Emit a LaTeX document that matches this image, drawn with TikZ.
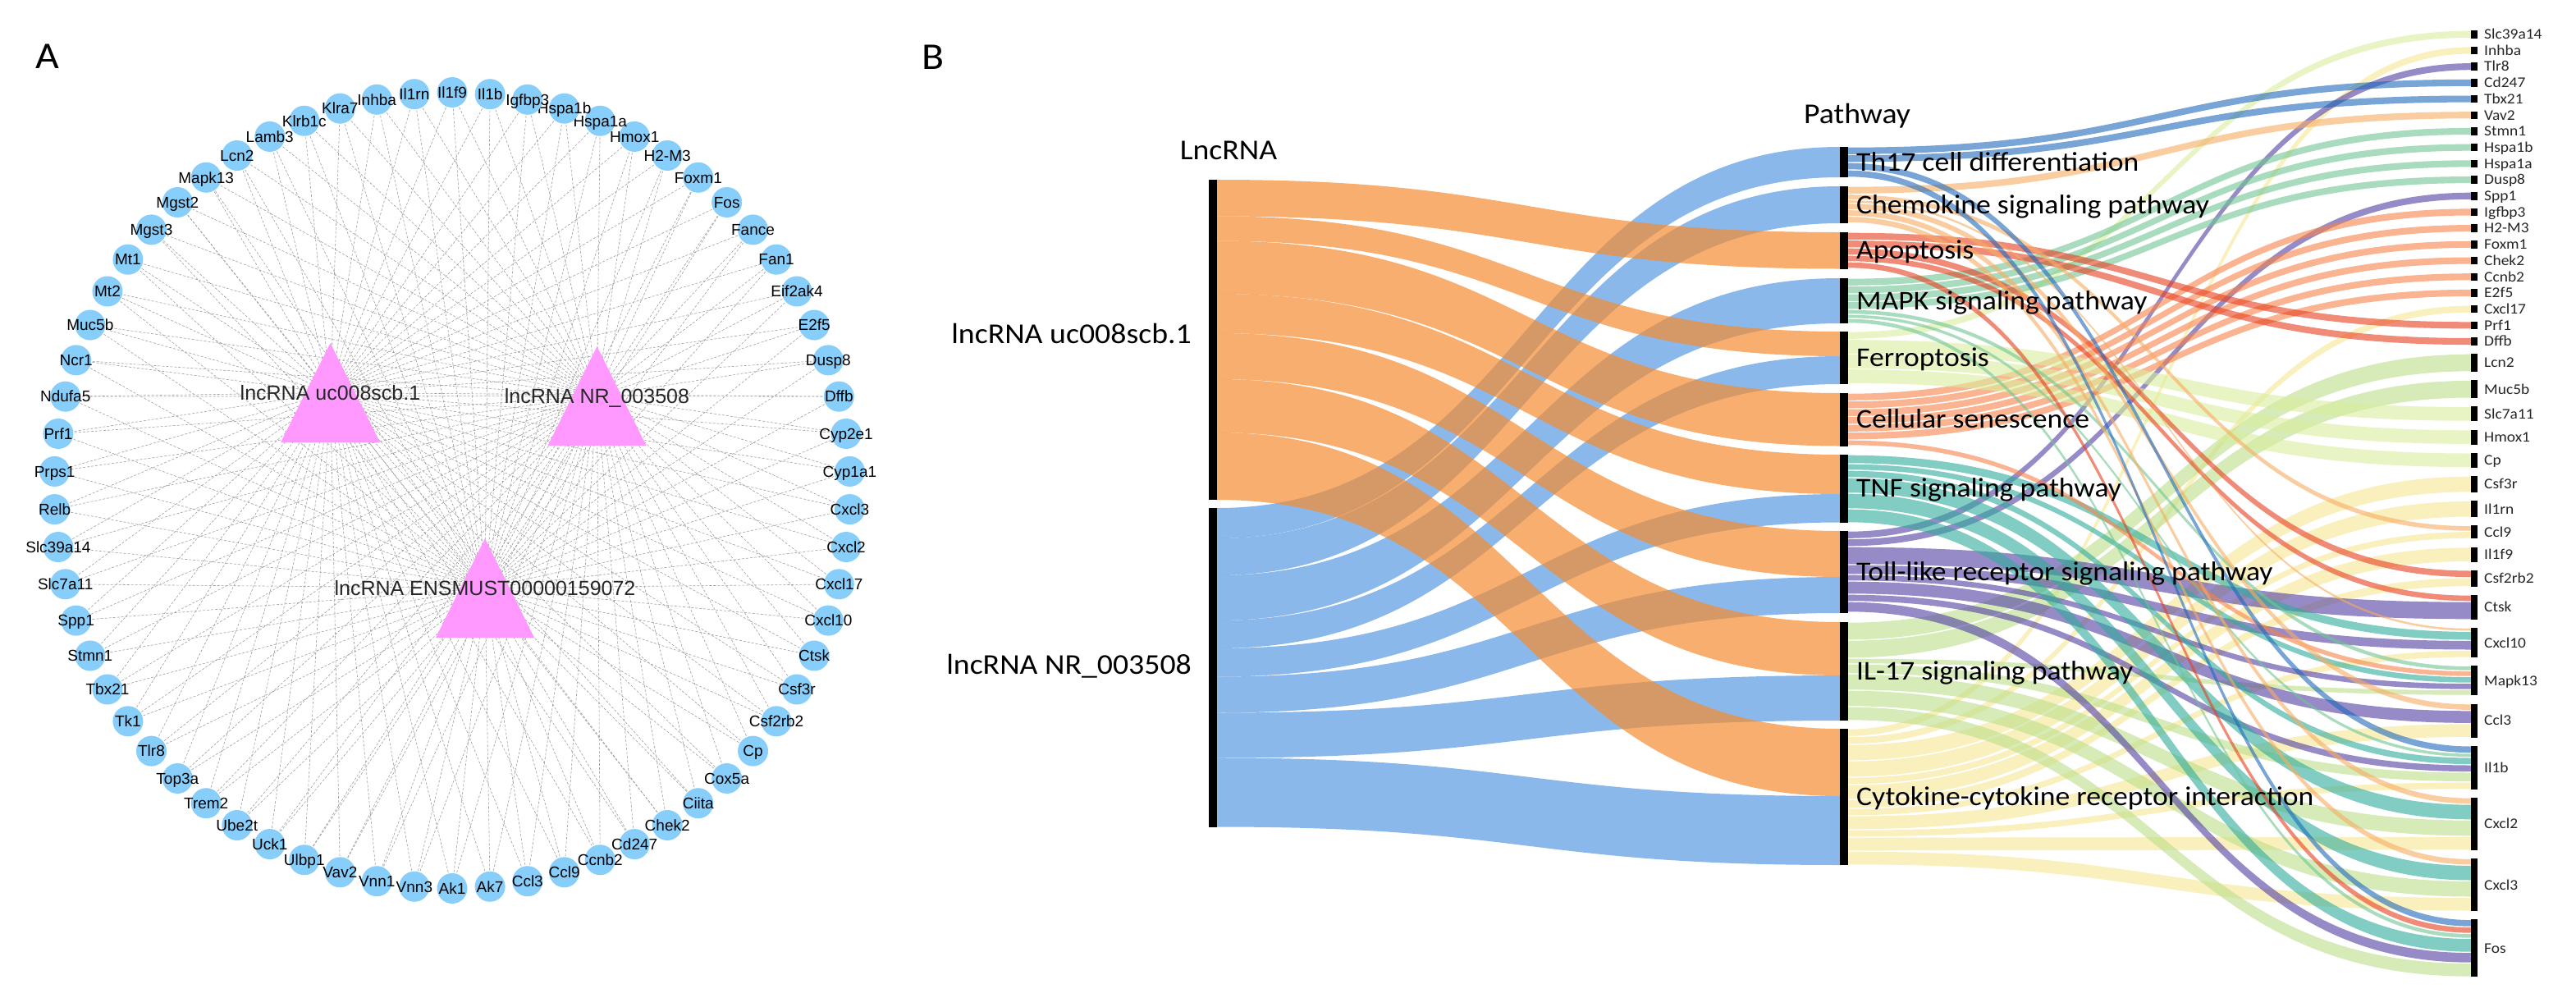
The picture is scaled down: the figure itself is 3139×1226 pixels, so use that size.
\documentclass[tikz,border=0pt]{standalone}
\usepackage{fontspec}
\setmainfont{Liberation Sans}
\newfontfamily\calw[FakeStretch=1.08]{Carlito}
\pgfdeclarelayer{bg}
\pgfsetlayers{bg,main}

\definecolor{skyb}{RGB}{135,206,250}
\definecolor{pinkt}{RGB}{255,153,255}
\definecolor{corange}{RGB}{245,140,50}
\definecolor{cblue}{RGB}{90,155,226}
\definecolor{cth}{RGB}{30,105,188}
\definecolor{cch}{RGB}{247,172,97}
\definecolor{cap}{RGB}{230,63,30}
\definecolor{cmk}{RGB}{113,197,147}
\definecolor{cfe}{RGB}{217,238,155}
\definecolor{ccs}{RGB}{247,130,72}
\definecolor{ctn}{RGB}{47,172,155}
\definecolor{ctl}{RGB}{80,63,163}
\definecolor{cil}{RGB}{188,222,138}
\definecolor{ccy}{RGB}{247,230,147}

% running offsets of the pathway nodes (right side)
\expandafter\def\csname rrth\endcsname{179}
\expandafter\def\csname rrch\endcsname{227}
\expandafter\def\csname rrap\endcsname{283}
\expandafter\def\csname rrmk\endcsname{339}
\expandafter\def\csname rrfe\endcsname{404}
\expandafter\def\csname rrcs\endcsname{479}
\expandafter\def\csname rrtn\endcsname{554}
\expandafter\def\csname rrtl\endcsname{647}
\expandafter\def\csname rril\endcsname{758}
\expandafter\def\csname rrcy\endcsname{888}

\newcommand\band[6]{%
  \pgfmathsetmacro\bxm{(#1+#3)/2}%
  \fill[#6] (#1,#2) .. controls (\bxm,#2) and (\bxm,#4) .. (#3,#4) -- (#3,{#4+#5}) .. controls (\bxm,{#4+#5}) and (\bxm,{#2+#5}) .. (#1,{#2+#5}) -- cycle;%
}

\newcounter{gc}
\newcommand\gy{37}
\newcommand\gene[2]{%
  \xdef\gtop{\gy}\xdef\goff{\gy}%
  \foreach \p/\w in {#2}{%
    \edef\ya{\csname rr\p\endcsname}%
    \pgfmathsetmacro\wd{\w-1.4}%
    \pgfmathsetmacro\yaa{\ya+0.7}%
    \pgfmathsetmacro\ybb{\goff+0.7}%
    \begin{pgfonlayer}{bg}%
      \band{2252}{\yaa}{3011}{\ybb}{\wd}{fill=c\p,fill opacity=0.6}%
    \end{pgfonlayer}%
    \pgfmathsetmacro\tmp{\ya+\w}\expandafter\xdef\csname rr\p\endcsname{\tmp}%
    \pgfmathsetmacro\tmp{\goff+\w}\xdef\goff{\tmp}%
  }%
  \stepcounter{gc}%
  \pgfmathsetmacro\gmid{(\gtop+\goff)/2}%
  \pgfmathsetmacro\gh{\goff-\gtop}%
  \node[gbar,minimum height=\gh] (gb\arabic{gc}) at (3015,\gmid) {};%
  \node[glab] (gl\arabic{gc}) at (3027,\gmid) {#1};%
  \pgfmathsetmacro\tmp{\goff+10.2}\xdef\gy{\tmp}%
}

\begin{document}
\begin{tikzpicture}[x=1pt,y=-1pt,
  edge/.style={draw=black!38,line width=0.6pt,dash pattern=on 3pt off 2pt},
  gnode/.style={circle,fill=skyb,draw=none,minimum size=37pt,inner sep=0pt},
  gtext/.style={anchor=base,yshift=-6.8pt,inner sep=0pt,font=\fontsize{19}{19}\selectfont},
  tlab/.style={anchor=base,yshift=-9pt,inner sep=0pt,text=black!85,font=\fontsize{25}{25}\selectfont},
  lfo/.style={fill=corange,fill opacity=0.7},
  lfb/.style={fill=cblue,fill opacity=0.7},
  pbar/.style={rectangle,fill=black,draw=none,minimum width=10pt,inner sep=0pt},
  lbar/.style={rectangle,fill=black,draw=none,minimum width=10pt,inner sep=0pt},
  gbar/.style={rectangle,fill=black,draw=none,minimum width=8pt,inner sep=0pt},
  glab/.style={anchor=base west,yshift=-5.8pt,inner sep=0pt,text=black!85,font=\calw\fontsize{18}{18}\selectfont},
  plab/.style={anchor=base west,yshift=-10.6pt,inner sep=0pt,font=\calw\fontsize{33}{33}\selectfont},
  big/.style={inner sep=0pt,font=\calw\fontsize{35}{35}\selectfont},
  panel/.style={inner sep=0pt,font=\calw\fontsize{46}{46}\selectfont}]
\useasboundingbox (0,0) rectangle (3139,1226);
\begin{pgfonlayer}{bg}
\fill[white] (0,0) rectangle (3139,1226);
\end{pgfonlayer}

% ---------------- Panel A ----------------
\node[panel] (pA) at (58,69) {A};
\coordinate (tuc) at (402.5,478.5);
\coordinate (tnr) at (727.5,482.5);
\coordinate (tens) at (591,716.5);
\foreach \g [count=\i] in {Ak1,Ak7,Ccl3,Ccl9,Ccnb2,Cd247,Chek2,Ciita,Cox5a,Cp,Csf2rb2,Csf3r,Ctsk,Cxcl10,Cxcl17,Cxcl2,Cxcl3,Cyp1a1,Cyp2e1,Dffb,Dusp8,E2f5,Eif2ak4,Fan1,Fance,Fos,Foxm1,H2-M3,Hmox1,Hspa1a,Hspa1b,Igfbp3,Il1b,Il1f9,Il1rn,Inhba,Klra7,Klrb1c,Lamb3,Lcn2,Mapk13,Mgst2,Mgst3,Mt1,Mt2,Muc5b,Ncr1,Ndufa5,Prf1,Prps1,Relb,Slc39a14,Slc7a11,Spp1,Stmn1,Tbx21,Tk1,Tlr8,Top3a,Trem2,Ube2t,Uck1,Ulbp1,Vav2,Vnn1,Vnn3}{
  \pgfmathsetmacro\ang{-90+(\i-1)*5.454545}
  \coordinate (g\i) at ({551+485*cos(\ang)},{597.5-485*sin(\ang)});
}
\foreach \i in {1,...,66}{
  \draw[edge] (g\i) -- (tuc);
  \draw[edge] (g\i) -- (tnr);
  \draw[edge] (g\i) -- (tens);
}
\foreach \g [count=\i] in {Ak1,Ak7,Ccl3,Ccl9,Ccnb2,Cd247,Chek2,Ciita,Cox5a,Cp,Csf2rb2,Csf3r,Ctsk,Cxcl10,Cxcl17,Cxcl2,Cxcl3,Cyp1a1,Cyp2e1,Dffb,Dusp8,E2f5,Eif2ak4,Fan1,Fance,Fos,Foxm1,H2-M3,Hmox1,Hspa1a,Hspa1b,Igfbp3,Il1b,Il1f9,Il1rn,Inhba,Klra7,Klrb1c,Lamb3,Lcn2,Mapk13,Mgst2,Mgst3,Mt1,Mt2,Muc5b,Ncr1,Ndufa5,Prf1,Prps1,Relb,Slc39a14,Slc7a11,Spp1,Stmn1,Tbx21,Tk1,Tlr8,Top3a,Trem2,Ube2t,Uck1,Ulbp1,Vav2,Vnn1,Vnn3}{
  \node[gnode] (c\i) at (g\i) {};
  \node[gtext] (t\i) at (g\i) {\g};
}
\fill[pinkt] (402.5,418) -- (463,539) -- (342,539) -- cycle;
\fill[pinkt] (727.5,422) -- (787.5,543) -- (667.5,543) -- cycle;
\fill[pinkt] (591,656) -- (651,777) -- (531,777) -- cycle;
\node[tlab] (luc) at (tuc) {lncRNA uc008scb.1};
\node[tlab] (lnr) at (tnr) {lncRNA NR\_003508};
\node[tlab] (lens) at (tens) {lncRNA ENSMUST00000159072};

% ---------------- Panel B ----------------
\node[panel] (pB) at (1137,70) {B};
\node[big,anchor=base] (hl) at (1497,194) {LncRNA};
\node[big,anchor=base west] (hp) at (2198,150) {Pathway};
\node[big,anchor=base east] (nuc) at (1452,418) {lncRNA uc008scb.1};
\node[big,anchor=base east] (nnr) at (1452,821) {lncRNA NR\_003508};

% left flows: NR_003508 (blue) first, then uc008scb.1 (orange)
\band{1483}{619}{2242}{179}{37}{lfb}
\band{1483}{656}{2242}{227}{45}{lfb}
\band{1483}{701}{2242}{339}{55}{lfb}
\band{1483}{756}{2242}{434}{34}{lfb}
\band{1483}{790}{2242}{602}{34.5}{lfb}
\band{1483}{824.5}{2242}{703}{44}{lfb}
\band{1483}{868.5}{2242}{823}{55}{lfb}
\band{1483}{923.5}{2242}{970}{84}{lfb}
\band{1483}{219}{2242}{283}{44.5}{lfo}
\band{1483}{263.5}{2242}{404}{30}{lfo}
\band{1483}{293.5}{2242}{479}{64.5}{lfo}
\band{1483}{358}{2242}{554}{48}{lfo}
\band{1483}{406}{2242}{647}{56}{lfo}
\band{1483}{462}{2242}{758}{65}{lfo}
\band{1483}{527}{2242}{888}{82}{lfo}

\node[lbar,minimum height=390] (buc) at (1478,414) {};
\node[lbar,minimum height=388.5] (bnr) at (1478,813.25) {};

% right flows + gene nodes
\gene{Slc39a14}{fe/9.5}
\gene{Inhba}{cy/9.5}
\gene{Tlr8}{tl/9.5}
\gene{Cd247}{th/9.5}
\gene{Tbx21}{th/9.5}
\gene{Vav2}{ch/9.5}
\gene{Stmn1}{mk/9.5}
\gene{Hspa1b}{mk/9.5}
\gene{Hspa1a}{mk/9.5}
\gene{Dusp8}{mk/9.5}
\gene{Spp1}{tl/9.5}
\gene{Igfbp3}{cs/9.5}
\gene{H2-M3}{cs/9.5}
\gene{Foxm1}{cs/9.5}
\gene{Chek2}{cs/9.5}
\gene{Ccnb2}{cs/9.5}
\gene{E2f5}{cs/9.5}
\gene{Cxcl17}{cy/9.5}
\gene{Prf1}{ap/9.5}
\gene{Dffb}{ap/9.5}
\gene{Lcn2}{il/22}
\gene{Muc5b}{il/22}
\gene{Slc7a11}{fe/18}
\gene{Hmox1}{fe/18}
\gene{Cp}{fe/18}
\gene{Csf3r}{cy/20}
\gene{Il1rn}{cy/20}
\gene{Ccl9}{ch/7,cy/9}
\gene{Il1f9}{cy/18}
\gene{Csf2rb2}{ap/9,cy/11}
\gene{Ctsk}{ap/8,tl/22}
\gene{Cxcl10}{ch/4,tn/11,tl/12,cy/9}
\gene{Mapk13}{mk/6,cs/7,tn/8,tl/8,il/7}
\gene{Ccl3}{ch/8,tl/16,cy/17}
\gene{Il1b}{th/9,mk/5,tn/9,tl/9,il/12,cy/9}
\gene{Cxcl2}{ch/8,tn/19,il/20,cy/17}
\gene{Cxcl3}{ch/8,tn/19,il/20,cy/17}
\gene{Fos}{th/9,ap/8,mk/6,tn/17,tl/13,il/17}

% pathway nodes
\foreach \pid/\ptp/\ph/\ptx in {th/179/37/Th17 cell differentiation,ch/227/45/Chemokine signaling pathway,ap/283/44.5/Apoptosis,mk/339/55/MAPK signaling pathway,fe/404/64/Ferroptosis,cs/479/64.5/Cellular senescence,tn/554/82.5/TNF signaling pathway,tl/647/100/Toll-like receptor signaling pathway,il/758/120/IL-17 signaling pathway,cy/888/166/Cytokine-cytokine receptor interaction}{
  \pgfmathsetmacro\pmid{\ptp+\ph/2}
  \node[pbar,minimum height=\ph] (pb\pid) at (2247,\pmid) {};
  \node[plab] (pl\pid) at (2262,\pmid) {\ptx};
}
\end{tikzpicture}
\end{document}
